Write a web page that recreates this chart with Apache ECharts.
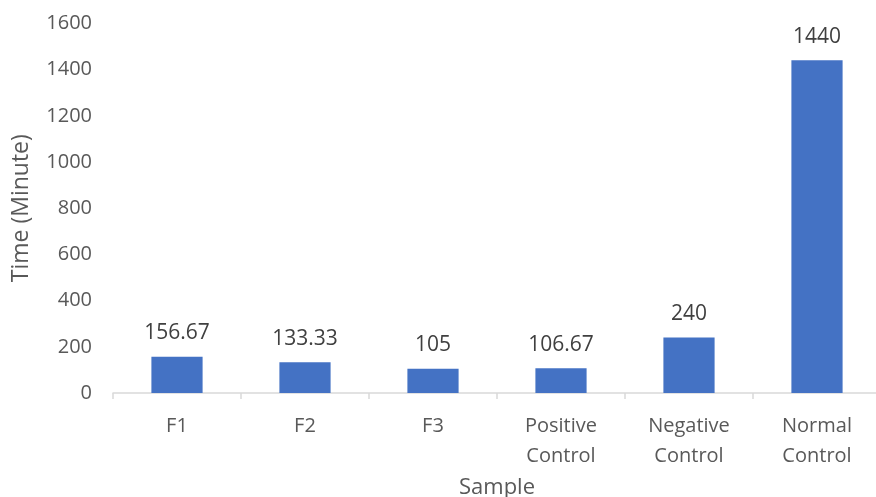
<!DOCTYPE html>
<html>
<head>
<meta charset="utf-8">
<script src="https://cdn.jsdelivr.net/npm/echarts@6/dist/echarts.min.js"></script>
<style>
  html, body { margin: 0; padding: 0; background: #fff; }
  #chart { width: 876px; height: 497px; }
</style>
</head>
<body>
<div id="chart"></div>
<script>
// Samples and their measured times
const categories = ['F1', 'F2', 'F3', 'Positive\nControl', 'Negative\nControl', 'Normal\nControl'];
const timeValues = [156.67, 133.33, 105, 106.67, 240, 1440];
const yTicks = { min: 0, max: 1600, interval: 200 };

const textColor = '#595959';
const fontFamily = '"Open Sans", "Noto Sans", sans-serif';

const chart = echarts.init(document.getElementById('chart'));
chart.setOption({
  animation: false,
  backgroundColor: '#ffffff',
  grid: { left: 113, right: -5, top: 23.4, bottom: 104, outerBoundsMode: 'none', containLabel: false },
  xAxis: {
    type: 'category',
    data: categories,
    name: 'Sample',
    nameLocation: 'middle',
    nameGap: 84,
    nameTextStyle: { color: textColor, fontSize: 22, fontFamily },
    axisLine: { lineStyle: { color: '#d9d9d9', width: 1.5 } },
    axisTick: { show: true, length: 6, lineStyle: { color: '#d9d9d9', width: 1.5 } },
    axisLabel: { color: textColor, fontSize: 20, fontFamily, lineHeight: 30, margin: 18 }
  },
  yAxis: {
    type: 'value',
    min: yTicks.min,
    max: yTicks.max,
    interval: yTicks.interval,
    name: 'Time (Minute)',
    nameLocation: 'middle',
    nameGap: 80,
    nameTextStyle: { color: textColor, fontSize: 23, fontFamily },
    axisLine: { show: false },
    axisTick: { show: false },
    splitLine: { show: false },
    axisLabel: { color: textColor, fontSize: 20, fontFamily, margin: 21, formatter: v => String(v) }
  },
  series: [{
    type: 'bar',
    data: timeValues,
    barWidth: '40%',
    itemStyle: { color: '#4472c4' },
    label: {
      show: true,
      position: 'top',
      distance: 13,
      color: '#404040',
      fontSize: 21,
      fontFamily
    }
  }]
});
</script>
</body>
</html>
